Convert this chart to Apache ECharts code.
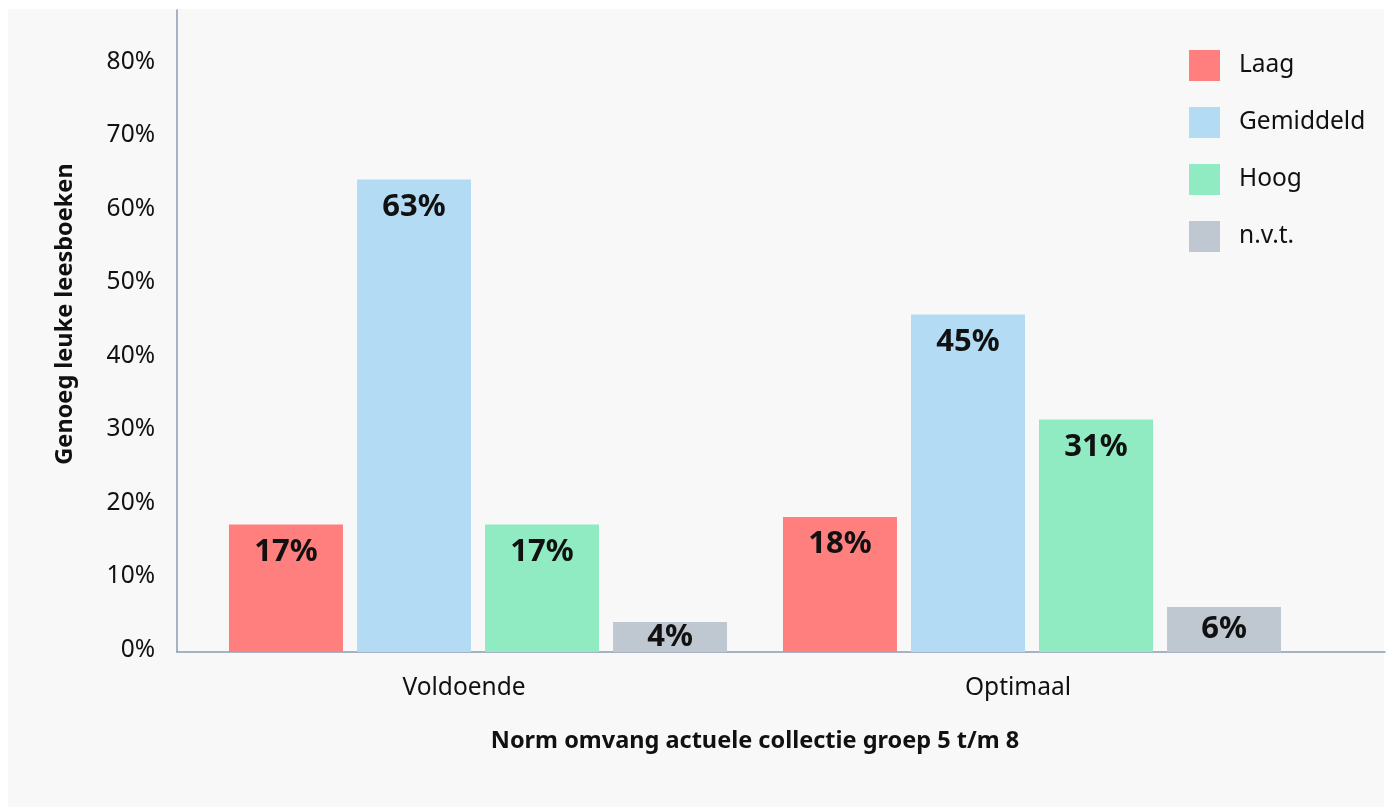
<!DOCTYPE html>
<html>
<head>
<meta charset="utf-8">
<script src="https://cdn.jsdelivr.net/npm/echarts@6/dist/echarts.min.js"></script>
<style>
html,body{margin:0;padding:0;background:#fff;}
#chart{width:1389px;height:808px;}
</style>
</head>
<body>
<div id="chart"></div>
<script>
const categories = ['Voldoende', 'Optimaal'];
const seriesNames = ['Laag', 'Gemiddeld', 'Hoog', 'n.v.t.'];
const laag = [17, 18];
const gemiddeld = [63, 45];
const hoog = [17, 31];
const nvt = [4, 6];
const yTicks = [0, 10, 20, 30, 40, 50, 60, 70, 80];
const xTitle = 'Norm omvang actuele collectie groep 5 t/m 8';
const yTitle = 'Genoeg leuke leesboeken';

const colors = ['#ff7f7f', '#b3dcf4', '#90ebc3', '#bfc8d1'];
const FONT = '"Noto Sans", "Open Sans", sans-serif';

function mkData(arr) {
  return arr.map(v => ({
    value: v,
    label: v < 10 ? { position: 'inside' } : { position: 'insideTop', distance: 12 }
  }));
}

const allSeries = [laag, gemiddeld, hoog, nvt].map((arr, i) => ({
  name: seriesNames[i],
  type: 'bar',
  xAxisIndex: 0,
  yAxisIndex: 0,
  barWidth: 114,
  barGap: '12.3%',
  itemStyle: { color: colors[i] },
  label: {
    show: true,
    formatter: '{c}%',
    fontFamily: FONT,
    fontSize: 31,
    fontWeight: 'bold',
    color: '#111'
  },
  data: mkData(arr)
}));

const chart = echarts.init(document.getElementById('chart'));
chart.setOption({
  backgroundColor: '#ffffff',
  animation: false,
  textStyle: { fontFamily: FONT },
  graphic: [
    { type: 'rect', z: -10, silent: true, shape: { x: 8, y: 9, width: 1376, height: 798 }, style: { fill: '#f8f8f8' } },
    { type: 'text', x: 65, y: 314, rotation: Math.PI / 2, style: { text: yTitle, fontFamily: FONT, fontSize: 23.5, fontWeight: 'bold', fill: '#111', align: 'center', verticalAlign: 'middle' } }
  ],
  legend: {
    orient: 'vertical',
    left: 1189,
    top: 50,
    padding: 0,
    itemWidth: 31,
    itemHeight: 31,
    itemGap: 26,
    icon: 'rect',
    data: seriesNames,
    textStyle: { fontFamily: FONT, fontSize: 24.5, color: '#111', padding: [4, 0, 0, 14] }
  },
  grid: [
    { left: 201, right: 80, top: 10, bottom: 156 },
    { left: 177, right: 4, top: 62, bottom: 158 },
    { left: 177, right: 4, top: 10, bottom: 156 }
  ],
  xAxis: [
    {
      gridIndex: 0, type: 'category', data: categories,
      axisLine: { show: false }, axisTick: { show: false },
      axisLabel: { fontFamily: FONT, fontSize: 24.5, color: '#111', margin: 24, padding: [0, 28, 0, 0] },
      name: xTitle, nameLocation: 'middle', nameGap: 77,
      nameTextStyle: { fontFamily: FONT, fontSize: 23.5, fontWeight: 'bold', color: '#111' }
    },
    { gridIndex: 1, type: 'value', show: false },
    {
      gridIndex: 2, type: 'value', min: 0, max: 1,
      axisLine: { show: true, lineStyle: { color: '#8c9bb0', width: 1.5 } },
      axisTick: { show: false }, axisLabel: { show: false }, splitLine: { show: false }
    }
  ],
  yAxis: [
    { gridIndex: 0, type: 'value', min: 0, max: 85.6, show: false },
    {
      gridIndex: 1, type: 'value', min: yTicks[0], max: yTicks[yTicks.length - 1], interval: 10,
      axisLine: { show: false }, axisTick: { show: false }, splitLine: { show: false },
      axisLabel: { fontFamily: FONT, fontSize: 24.5, color: '#111', margin: 22, formatter: '{value}%' }
    },
    {
      gridIndex: 2, type: 'value', min: 0, max: 1,
      axisLine: { show: true, lineStyle: { color: '#8c9bb0', width: 1.5 } },
      axisTick: { show: false }, axisLabel: { show: false }, splitLine: { show: false }
    }
  ],
  series: allSeries
});
</script>
</body>
</html>
